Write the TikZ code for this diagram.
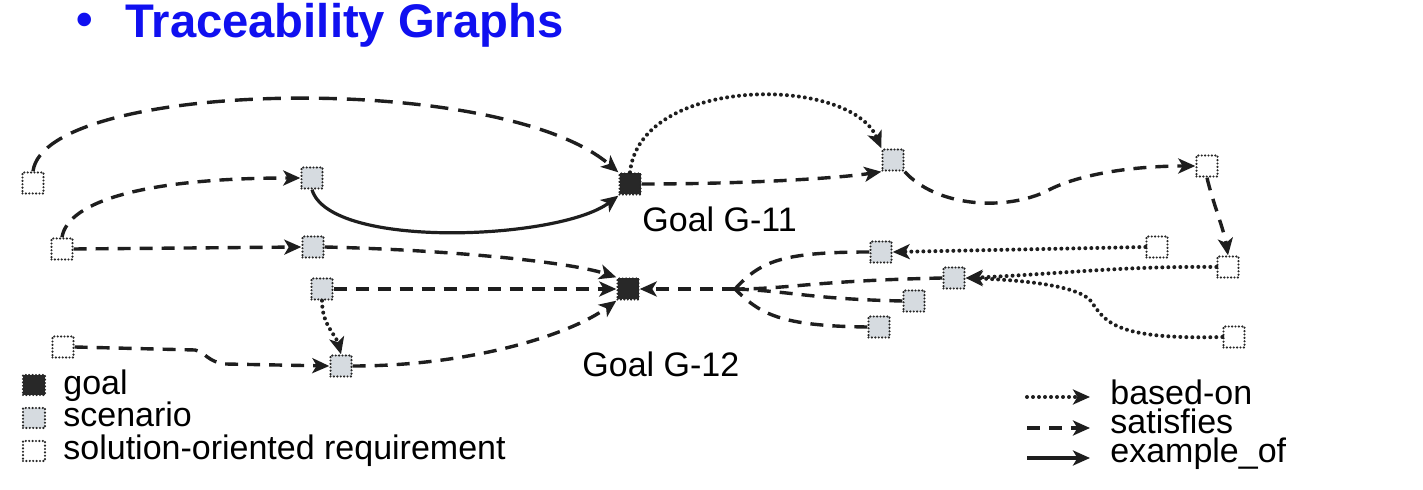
\documentclass[tikz,border=0pt]{standalone}
\usepackage{fontspec}
\setmainfont{Liberation Sans}
\usetikzlibrary{arrows.meta}
\definecolor{titleblue}{RGB}{16,16,240}
\definecolor{goalfill}{RGB}{40,40,40}
\definecolor{scenfill}{RGB}{214,219,224}
\definecolor{edgecol}{RGB}{30,30,30}
\tikzset{
  box/.style={minimum width=10.5pt,minimum height=10.5pt,inner sep=0pt,draw=black!85,
    line width=1.2pt,line cap=round,dash pattern=on 0pt off 1.7pt},
  goalbox/.style={box,fill=goalfill},
  scenbox/.style={box,fill=scenfill},
  reqbox/.style={box,fill=white},
  tip/.style={-{Stealth[length=8.5pt,width=7.5pt,inset=2.2pt]}},
  satisfies/.style={draw=edgecol,line width=1.7pt,dash pattern=on 6.5pt off 4.5pt},
  longdash/.style={draw=edgecol,line width=1.7pt,dash pattern=on 9pt off 5pt},
  basedon/.style={draw=edgecol,line width=2pt,line cap=round,dash pattern=on 0pt off 3pt},
  exampleof/.style={draw=edgecol,line width=1.6pt},
  lbl/.style={font=\fontsize{17}{20}\selectfont,anchor=base west,inner sep=0pt},
}
\begin{document}
\begin{tikzpicture}[x=0.5pt,y=-0.5pt]
\useasboundingbox (0,0) rectangle (1423,490);
% title
\node[font=\fontsize{23.6}{28}\bfseries\selectfont,text=titleblue,inner sep=0pt] (bullet) at (85,24) {•};
\node[font=\fontsize{23.6}{28}\bfseries\selectfont,text=titleblue,anchor=base west,inner sep=0pt] (title) at (125,38) {Traceability Graphs};
% nodes
\node[reqbox]  (R1)  at (33,183) {};
\node[scenbox] (S1)  at (312,178) {};
\node[reqbox]  (R2)  at (62,249) {};
\node[scenbox] (S2)  at (313,247) {};
\node[goalbox] (G11) at (630,184) {};
\node[scenbox] (S3)  at (893,160) {};
\node[reqbox]  (R3)  at (1207,166) {};
\node[reqbox]  (R4)  at (1228,267) {};
\node[reqbox]  (R5)  at (1157,247) {};
\node[reqbox]  (R6)  at (1234,337) {};
\node[scenbox] (S4)  at (881,252) {};
\node[scenbox] (S5)  at (954,278) {};
\node[scenbox] (S6)  at (914,301) {};
\node[scenbox] (S7)  at (879,327) {};
\node[goalbox] (G12) at (628,289) {};
\node[scenbox] (S8)  at (322,289) {};
\node[scenbox] (S9)  at (341,366) {};
\node[reqbox]  (R7)  at (63,347) {};
\coordinate (J) at (735,289);
% labels
\node[lbl] (L11) at (642,232) {Goal G-11};
\node[lbl] (L12) at (582,377) {Goal G-12};
% edges
\draw[longdash,tip] (R1.north) .. controls (45,80) and (500,70) .. (G11.north west);
\draw[basedon,tip] (G11.north) .. controls (640,75) and (850,75) .. (S3.north west);
\draw[satisfies,tip] (G11.east) .. controls (750,184) and (840,178) .. (S3.south west);
\draw[satisfies,tip] (S3.south east) .. controls (935,205) and (1000,212) .. (1045,192)
   .. controls (1075,175) and (1130,166) .. (R3.west);
\draw[satisfies,tip] (R3.south) .. controls (1212,200) and (1224,230) .. (R4.north);
\draw[basedon,tip] (R5.west) -- (S4.east);
\draw[basedon,tip] (R4.west) .. controls (1120,266) and (1060,274) .. (S5.east);
\draw[basedon,tip] (R6.west) .. controls (1110,340) and (1105,320) .. (1090,300)
   .. controls (1075,285) and (1020,280) .. (S5.east);
\draw[satisfies] (S4.west) .. controls (780,252) and (760,262) .. (J);
\draw[satisfies] (S5.west) .. controls (810,281) and (790,289) .. (J);
\draw[satisfies] (S6.west) .. controls (810,299) and (790,291) .. (J);
\draw[satisfies] (S7.west) .. controls (780,326) and (760,314) .. (J);
\draw[satisfies,tip] (J) -- (G12.east);
\draw[satisfies,tip] (S8.east) -- (G12.west);
\draw[satisfies,tip] (S2.east) .. controls (450,250) and (570,262) .. (G12.north west);
\draw[satisfies,tip] (S9.east) .. controls (470,366) and (570,335) .. (G12.south west);
\draw[basedon,tip] (S8.south) .. controls (322,325) and (336,335) .. (S9.north);
\draw[satisfies,tip] (R7.east) -- (195,350) .. controls (205,352) and (208,362) .. (225,364) -- (S9.west);
\draw[satisfies,tip] (R2.east) -- (S2.west);
\draw[satisfies,tip] (R2.north) .. controls (68,200) and (150,178) .. (S1.west);
\draw[exampleof,tip] (S1.south) .. controls (330,250) and (560,240) .. (G11.south west);
% legend left
\node[goalbox,minimum width=11pt,minimum height=10pt] (kg) at (34,385) {};
\node[scenbox,minimum width=11pt,minimum height=10pt] (ks) at (34,418) {};
\node[reqbox,minimum width=11pt,minimum height=10pt] (kr) at (34,451) {};
\node[lbl] (tg) at (63,395) {goal};
\node[lbl] (ts) at (63,427) {scenario};
\node[lbl] (tr) at (63,460) {solution-oriented requirement};
% legend right
\coordinate (a1) at (1027,397); \coordinate (b1) at (1090,397);
\coordinate (a2) at (1027,428); \coordinate (b2) at (1090,428);
\coordinate (a3) at (1027,458); \coordinate (b3) at (1090,458);
\draw[basedon,tip] (a1) -- (b1);
\draw[satisfies,tip] (a2) -- (b2);
\draw[exampleof,tip] (a3) -- (b3);
\node[lbl] (t1) at (1110,405) {based-on};
\node[lbl] (t2) at (1110,434) {satisfies};
\node[lbl] (t3) at (1110,463) {example\_of};
\end{tikzpicture}
\end{document}
